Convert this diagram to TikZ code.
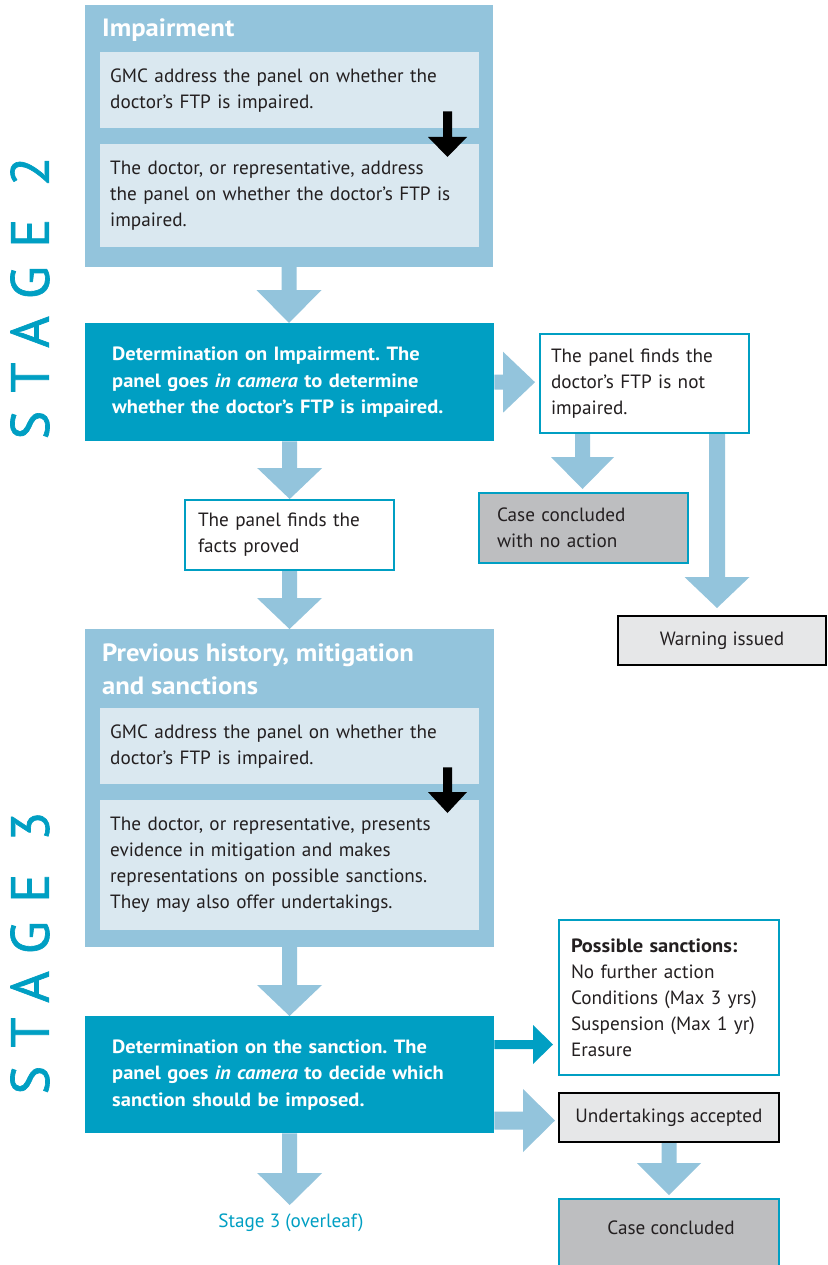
\documentclass[tikz,border=0pt]{standalone}
\usepackage{fontspec}
\setmainfont{PT Sans}
\newfontfamily\widefont[FakeStretch=1.067]{PT Sans}
\newfontfamily\stagefont[LetterSpace=34,FakeBold=1.2]{PT Sans}
\usetikzlibrary{calc}
\definecolor{lb}{HTML}{93C4DC}
\definecolor{pale}{HTML}{DAE8F0}
\definecolor{gmcteal}{HTML}{009FC3}
\definecolor{boxgray}{HTML}{BDBEC0}
\definecolor{lgray}{HTML}{E6E7E8}
\definecolor{ink}{HTML}{231F20}
\newcommand\fatv[6][lb]{%
  \fill[#1] let \p1=(#2), \p2=(#3) in
  (\x1-#4,\y1) -- (\x1+#4,\y1) -- (\x1+#4,\y2+#6) -- (\x1+#5,\y2+#6) -- (\x1,\y2)
  -- (\x1-#5,\y2+#6) -- (\x1-#4,\y2+#6) -- cycle;}
\newcommand\fath[6][lb]{%
  \fill[#1] let \p1=(#2), \p2=(#3) in
  (\x1,\y1-#4) -- (\x2-#6,\y1-#4) -- (\x2-#6,\y1-#5) -- (\x2,\y1)
  -- (\x2-#6,\y1+#5) -- (\x2-#6,\y1+#4) -- (\x1,\y1+#4) -- cycle;}
\newcommand\wb[1]{{\widefont\bfseries #1}}
\tikzset{
  body/.style={font=\fontsize{19.2}{26}\selectfont\frenchspacing, text=ink},
  panel/.style={anchor=north west, inner sep=0pt, outer sep=0pt, fill=lb},
  inbox/.style={anchor=north west, fill=pale, inner ysep=0pt, inner xsep=10pt,
     minimum width=379pt, text width=359pt, align=left, body},
  detbox/.style={anchor=north west, fill=gmcteal, inner ysep=0pt, inner xsep=27pt,
     minimum width=409pt, text width=355pt, align=left,
     font=\fontsize{19.2}{26.5}\selectfont\widefont\bfseries\frenchspacing, text=white},
  tealbox/.style={anchor=north west, draw=gmcteal, line width=2pt, inner ysep=0pt,
     align=left, body},
  blackbox/.style={anchor=north west, draw=black, line width=2pt, fill=lgray,
     inner sep=0pt, align=center, body},
  heading/.style={inner sep=0pt, align=left, text=white,
     font=\fontsize{25}{33}\selectfont\widefont\bfseries},
  stagelbl/.style={rotate=90, text=gmcteal, inner sep=0pt,
     font=\fontsize{54}{54}\selectfont\stagefont}
}
\begin{document}
\begin{tikzpicture}[x=1pt,y=-1pt]
\useasboundingbox (0,0) rectangle (827,1265);
\fill[white] (0,0) rectangle (827,1265);

% stage labels
\node[stagelbl] (st2) at (30,298) {STAGE 2};
\node[stagelbl] (st3) at (30,953) {STAGE 3};

% Stage 2 block
\node[panel, minimum width=408pt, minimum height=262pt] (imp) at (85,5) {};
\node[heading, anchor=west] (imph) at (102,30.5) {Impairment};
\node[inbox, minimum height=76pt] (imp1) at (100,52)
  {GMC address the panel on whether the\\doctor’s FTP is impaired.};
\node[inbox, minimum height=103pt] (imp2) at (100,144)
  {The doctor, or representative, address\\the panel on whether the doctor’s FTP is\\impaired.};

\node[detbox, minimum height=118pt] (det1) at (85,323)
  {Determination on Impairment. The\\panel goes \textit{in camera} to determine\\whether the doctor’s FTP is impaired.};

\node[tealbox, fill=white, minimum width=209pt, minimum height=99pt,
      inner xsep=11pt, text width=187pt] (notimp) at (539,333)
  {The panel finds the\\doctor’s FTP is not\\impaired.};
\node[tealbox, fill=boxgray, minimum width=209pt, minimum height=70pt,
      inner xsep=18pt, text width=173pt] (noact) at (478,492)
  {Case concluded\\with no action};
\node[blackbox, minimum width=208pt, minimum height=49pt] (warn) at (617,615)
  {Warning issued};

\node[tealbox, fill=white, minimum width=209pt, minimum height=70pt,
      inner xsep=13pt, text width=183pt] (facts) at (184,499)
  {The panel finds the\\facts proved};

% Stage 3 block
\node[panel, minimum width=409pt, minimum height=318pt] (hist) at (85,629) {};
\node[heading, anchor=west] (histh) at (102,669)
  {Previous history, mitigation\\and sanctions};
\node[inbox, minimum height=76pt] (hist1) at (100,708)
  {GMC address the panel on whether the\\doctor’s FTP is impaired.};
\node[inbox, minimum height=130pt] (hist2) at (100,800)
  {The doctor, or representative, presents\\evidence in mitigation and makes\\representations on possible sanctions.\\They may also offer undertakings.};

\node[detbox, minimum height=117pt] (det2) at (85,1016)
  {Determination on the sanction. The\\panel goes \textit{in camera} to decide which\\sanction should be imposed.};

\node[body, text=gmcteal, inner sep=0pt] (over) at (291,1223) {Stage 3 (overleaf)};

\node[tealbox, fill=white, minimum width=220pt, minimum height=155pt,
      inner xsep=12pt, text width=196pt] (sanc) at (558,919)
  {\wb{Possible sanctions:}\\No further action\\Conditions (Max 3 yrs)\\Suspension (Max 1 yr)\\Erasure};
\node[blackbox, minimum width=220pt, minimum height=49pt] (under) at (558,1092)
  {Undertakings accepted};
\node[tealbox, fill=boxgray, minimum width=220pt, minimum height=90pt] (concl) at (558,1198) {};
\node[body, inner sep=0pt] (conclt) at (671,1228) {Case concluded};

% helper coordinates
\coordinate (cA) at (582.5,0);
\coordinate (cB) at (717,0);
\coordinate (cK) at (447.5,0);
\coordinate (ovtip) at (289,1205);
\coordinate (rS) at (0,1044.5);
\coordinate (rU) at (0,1120.5);

% light blue fat arrows
\fatv{imp.south}{det1.north}{7.5pt}{32.5pt}{33pt}
\fatv{det1.south}{facts.north}{7.5pt}{32.5pt}{31pt}
\fatv{facts.south}{hist.north}{7.5pt}{32.5pt}{31pt}
\fatv{hist.south}{det2.north}{7.5pt}{32.5pt}{31pt}
\fatv{det2.south}{ovtip}{7.5pt}{32.5pt}{32pt}
\fatv{cA |- notimp.south}{[yshift=3pt]cA |- noact.north}{7.5pt}{31.5pt}{32pt}
\fatv{cB |- notimp.south}{[yshift=7pt]cB |- warn.north}{8pt}{32.5pt}{31pt}
\fatv{under.south}{[yshift=3pt]concl.north}{7.5pt}{32pt}{32pt}
\fath{det1.east}{[xshift=-4pt]notimp.west}{7.5pt}{30.5pt}{32pt}
\fath{det2.east |- rU}{[xshift=-3pt]under.west |- rU}{9pt}{31.5pt}{32pt}
\fath[gmcteal]{det2.east |- rS}{[xshift=-5pt]sanc.west |- rS}{4.5pt}{19.5pt}{20pt}

% black step arrows
\fatv[black]{[yshift=17pt]cK |- imp1.south}{[yshift=-13pt]cK |- imp2.north}{4.5pt}{19.5pt}{20pt}
\fatv[black]{[yshift=17pt]cK |- hist1.south}{[yshift=-13pt]cK |- hist2.north}{4.5pt}{19.5pt}{21pt}
\end{tikzpicture}
\end{document}
